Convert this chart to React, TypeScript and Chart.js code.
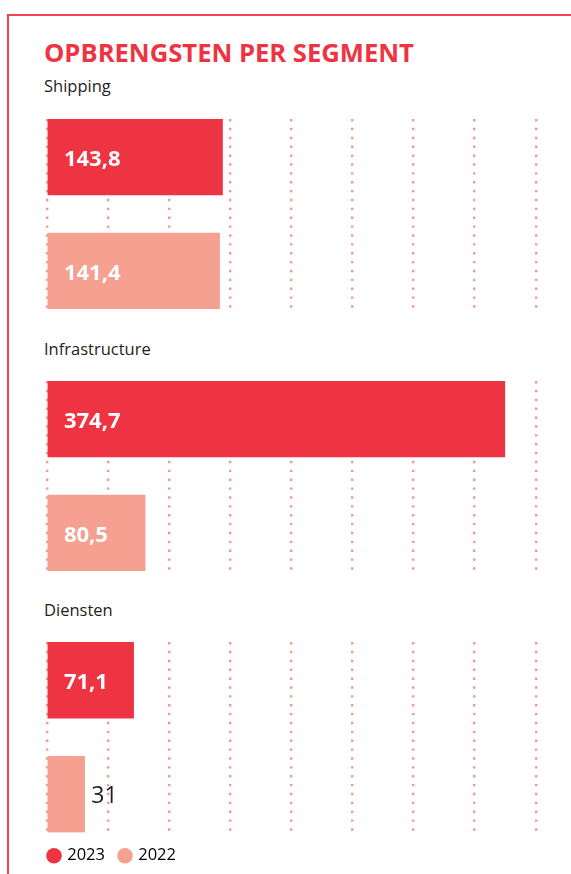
import React, { useEffect, useRef } from 'react';
import { Chart, registerables } from 'chart.js';

Chart.register(...registerables);

// ---- data ----
const chartTitle = 'OPBRENGSTEN PER SEGMENT';
const segments = ['Shipping', 'Infrastructure', 'Diensten'];
const years = ['2023', '2022'];
const values2023 = [143.8, 374.7, 71.1];
const values2022 = [141.4, 80.5, 31];
const xTicks = [0, 50, 100, 150, 200, 250, 300, 350, 400];

// ---- styles ----
const RED = '#ee3442';
const SALMON = '#f5a090';
const GRID = '#f4998b';
const FRAME = '#f04552';
const TEXT = '#231f20';
const FONT = '"Open Sans", "Noto Sans", sans-serif';
const yearColors = [RED, SALMON];

const fmt = (v: number) => String(v).replace('.', ',');

const valueLabels = {
  id: 'valueLabels',
  afterDatasetsDraw(chart: any) {
    const ctx = chart.ctx as CanvasRenderingContext2D;
    chart.data.datasets.forEach((ds: any, di: number) => {
      const meta = chart.getDatasetMeta(di);
      meta.data.forEach((el: any, i: number) => {
        const v = ds.data[i].x as number;
        const text = fmt(v);
        const size = 22;
        ctx.save();
        ctx.textAlign = 'left';
        ctx.textBaseline = 'alphabetic';
        ctx.font = `bold ${size}px ${FONT}`;
        const w = ctx.measureText(text).width;
        const left = Math.min(el.x, el.base);
        const right = Math.max(el.x, el.base);
        if (right - left >= w + 32) {
          ctx.fillStyle = '#ffffff';
          ctx.fillText(text, left + 16, el.y + size * 0.357 + 1);
        } else {
          ctx.font = `normal ${size + 1}px ${FONT}`;
          ctx.fillStyle = TEXT;
          ctx.fillText(text, right + 6.7, el.y + (size + 1) * 0.357);
        }
        ctx.restore();
      });
    });
  },
};

type SegProps = { index: number; top: number; height: number; showLegend: boolean };

function SegmentChart({ index, top, height, showLegend }: SegProps) {
  const ref = useRef<HTMLCanvasElement>(null);
  useEffect(() => {
    if (!ref.current) return;
    const chart = new Chart(ref.current, {
      type: 'bar',
      data: {
        datasets: [
          {
            label: segments[index],
            data: [
              { x: values2023[index], y: 0 },
              { x: values2022[index], y: 1 },
            ],
            backgroundColor: yearColors,
            borderWidth: 0,
            barThickness: 76,
          } as any,
        ],
      },
      options: {
        indexAxis: 'y',
        animation: false,
        responsive: false,
        events: [],
        layout: { padding: { left: 0, right: 18.3, top: 5, bottom: showLegend ? 0 : 5 } },
        scales: {
          x: {
            type: 'linear',
            min: xTicks[0],
            max: xTicks[xTicks.length - 1],
            offset: false,
            ticks: { display: false, stepSize: xTicks[1] - xTicks[0] },
            grid: { color: GRID, lineWidth: 2.4, drawTicks: false, offset: false },
            border: { display: false, dash: [2.4, 6.47] },
            afterFit: (s: any) => {
              s.height = 0;
            },
          },
          y: {
            type: 'linear',
            reverse: true,
            offset: false,
            min: -1 / 3,
            max: 4 / 3,
            ticks: { display: false },
            grid: { display: false, offset: false },
            border: { display: false },
            afterFit: (s: any) => {
              s.width = 12.7;
            },
          },
        } as any,
        plugins: {
          legend: showLegend
            ? {
                display: true,
                position: 'bottom',
                align: 'start',
                labels: {
                  usePointStyle: true,
                  boxWidth: 10,
                  boxHeight: 11,
                  padding: 15,
                  color: TEXT,
                  font: { family: FONT, size: 16.5 },
                  generateLabels: () =>
                    years.map((y, i) => ({
                      text: y,
                      fillStyle: yearColors[i],
                      strokeStyle: yearColors[i],
                      lineWidth: 0,
                      pointStyle: 'circle',
                      hidden: false,
                      datasetIndex: 0,
                      index: i,
                    })),
                },
              }
            : { display: false },
          tooltip: { enabled: false },
          title: { display: false },
        } as any,
      },
      plugins: [valueLabels],
    } as any);
    return () => chart.destroy();
  }, [index, showLegend]);
  return (
    <canvas
      ref={ref}
      width={520}
      height={height}
      style={{ position: 'absolute', left: 34, top, width: 520, height }}
    />
  );
}

const labelStyle = (top: number): React.CSSProperties => ({
  position: 'absolute',
  left: 44,
  top,
  fontFamily: FONT,
  fontSize: 16.5,
  lineHeight: 1,
  color: TEXT,
  whiteSpace: 'nowrap',
});

export default function App() {
  const chartTops = [114, 376, 637];
  const labelTops = [77.9, 341, 602];
  return (
    <div
      style={{
        position: 'absolute',
        left: 0,
        top: 0,
        width: 571,
        height: 874,
        overflow: 'hidden',
        background: '#ffffff',
      }}
    >
      <div
        style={{
          position: 'absolute',
          left: 7,
          top: 14,
          width: 620,
          height: 900,
          borderLeft: `2px solid ${FRAME}`,
          borderTop: `2px solid ${FRAME}`,
          boxSizing: 'border-box',
        }}
      />
      <div
        style={{
          position: 'absolute',
          left: 44,
          top: 39.5,
          fontFamily: FONT,
          fontSize: 25.6,
          fontWeight: 700,
          lineHeight: 1,
          color: RED,
          whiteSpace: 'nowrap',
        }}
      >
        {chartTitle}
      </div>
      {segments.map((s, i) => (
        <div key={s} style={labelStyle(labelTops[i])}>
          {s}
        </div>
      ))}
      {segments.map((s, i) => (
        <SegmentChart
          key={s}
          index={i}
          top={chartTops[i]}
          height={i === segments.length - 1 ? 237 : 200}
          showLegend={i === segments.length - 1}
        />
      ))}
    </div>
  );
}
